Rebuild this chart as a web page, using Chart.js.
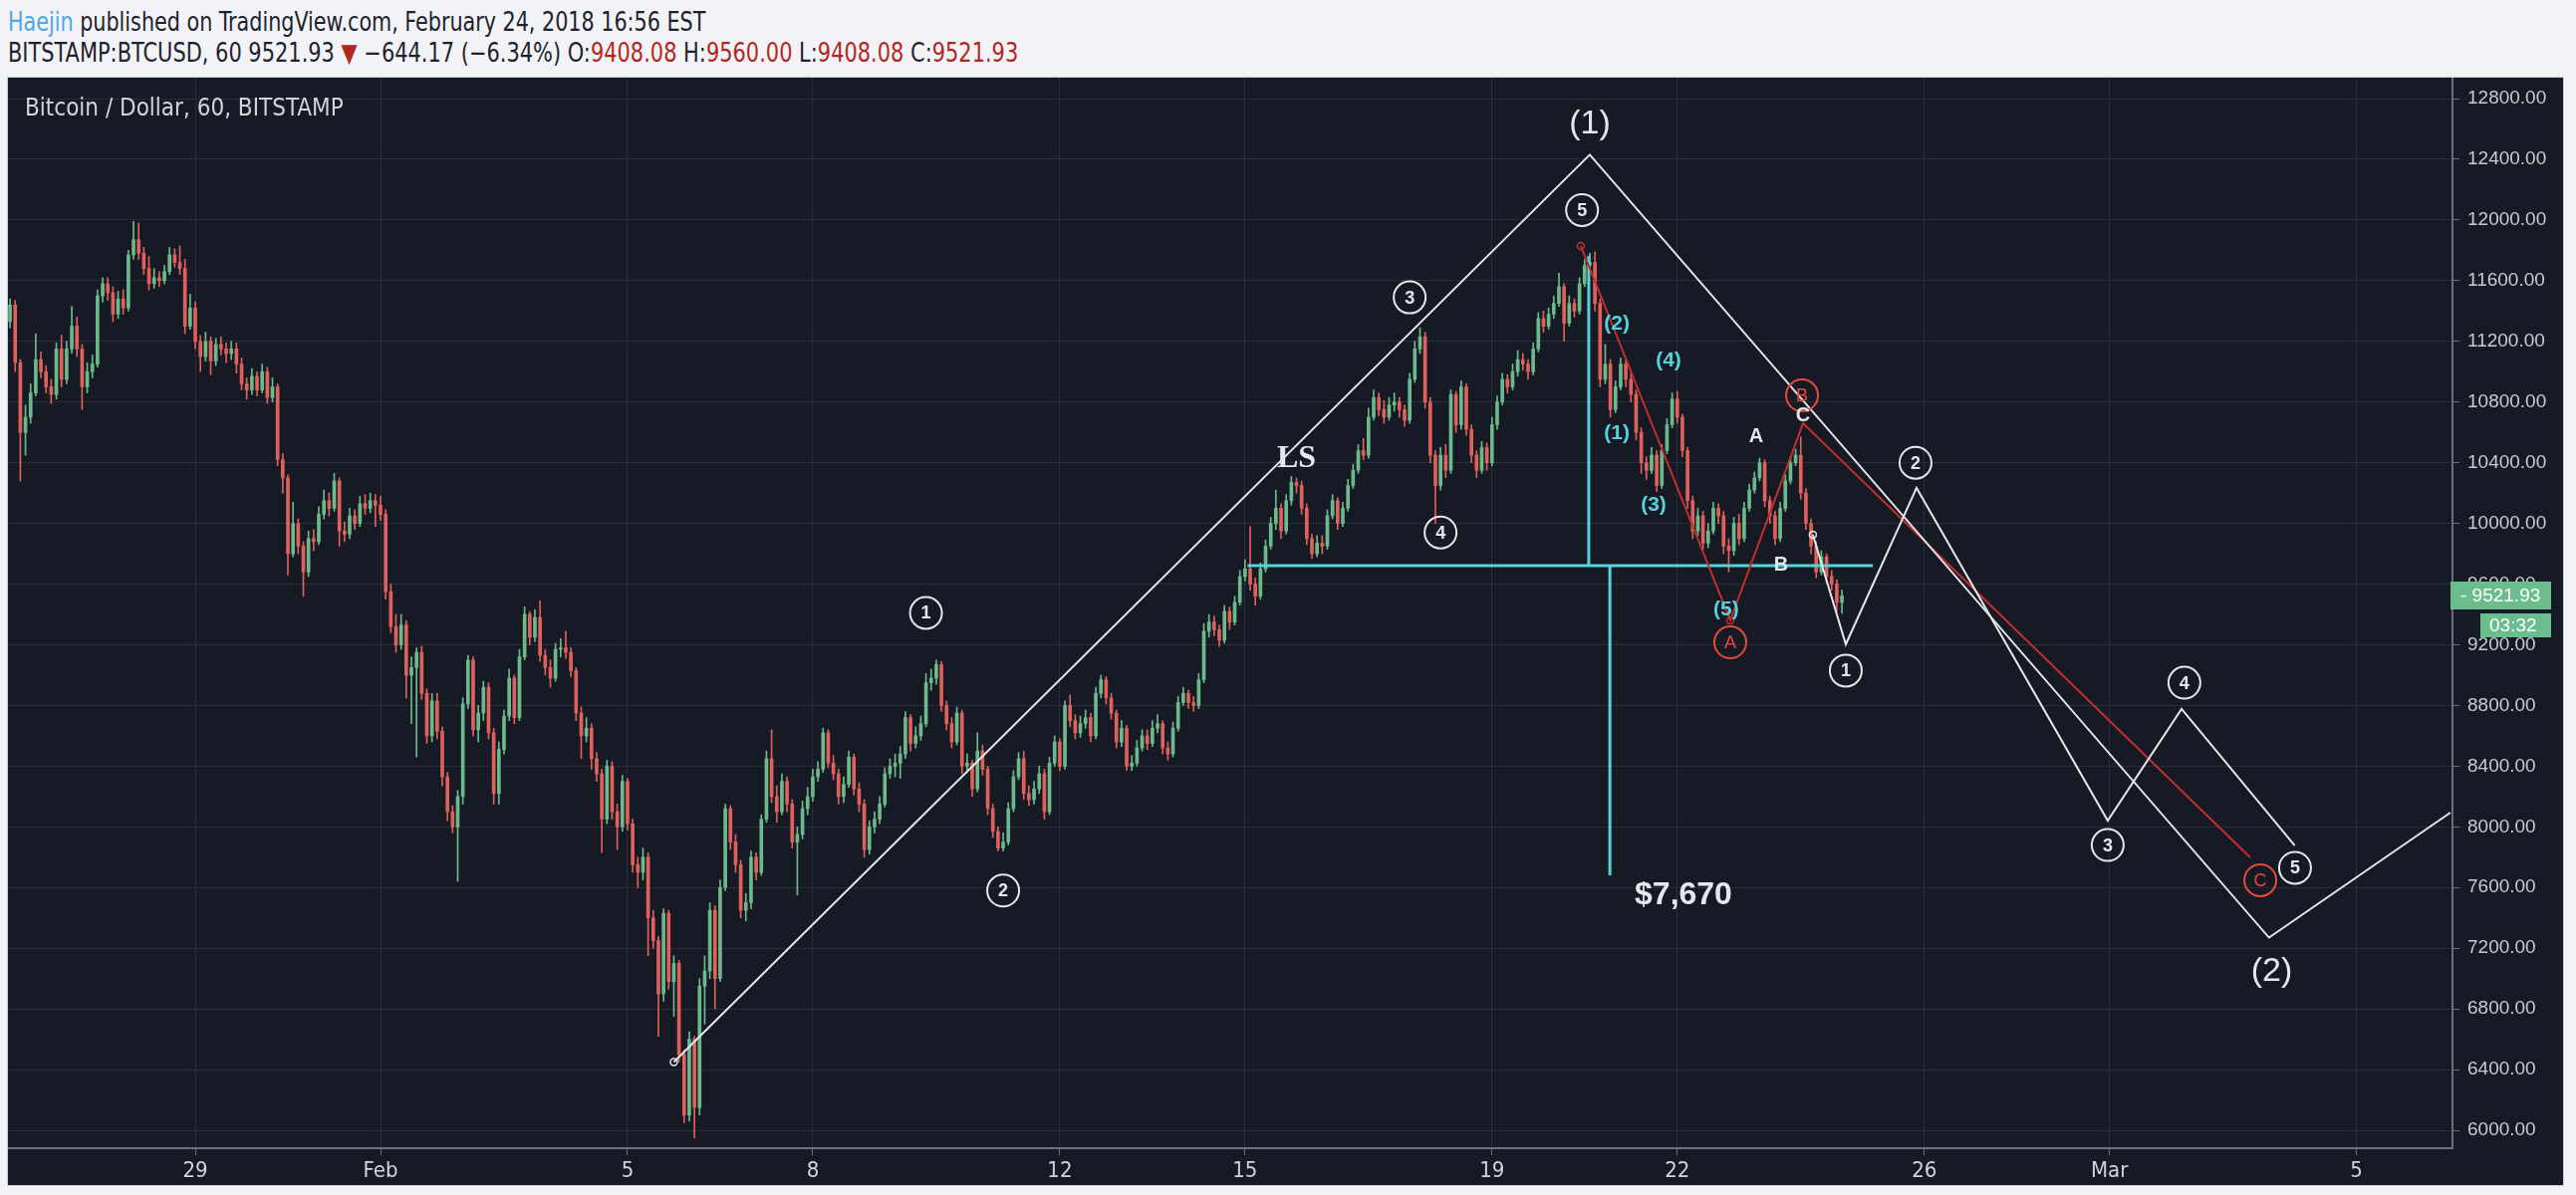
<!DOCTYPE html>
<html lang="en">
<head>
<meta charset="UTF-8">
<title>BITSTAMP:BTCUSD, 60 – Haejin</title>
<script src="https://cdn.jsdelivr.net/npm/chart.js"></script>
<style>
  *{box-sizing:border-box;margin:0;padding:0}
  body{width:2586px;height:1200px;background:#f2f3f7;position:relative;overflow:hidden;
       font-family:'Liberation Sans Narrow','DejaVu Sans Condensed',sans-serif;color:#1e222d}
  .hdr{position:absolute;left:8px;font-size:26px;line-height:32px;white-space:nowrap;transform-origin:0 50%}
  .l1{top:6px;transform:scaleX(0.885)}
  .l2{top:37px;transform:scaleX(0.895)}
  .user{color:#4ea6e6}
  .red{color:#b3261e}
  .panel{position:absolute;left:8px;top:78px;width:2565px;height:1112px;background:#161a25;
         box-shadow:0 0 0 1px #c9ccd4}
  canvas{display:block}
</style>
</head>
<body>
  <div class="hdr l1"><span class="user">Haejin</span> published on TradingView.com, February 24, 2018 16:56 EST</div>
  <div class="hdr l2">BITSTAMP:BTCUSD, 60 9521.93 <span class="red">▼</span> −644.17 (−6.34%) O:<span class="red">9408.08</span> H:<span class="red">9560.00</span> L:<span class="red">9408.08</span> C:<span class="red">9521.93</span></div>
  <div class="panel"><canvas id="chart" width="2565" height="1112"></canvas></div>

<script>
// ---- candles: 2-hour bars from Jan 26 00:00 (x in hours) ----
const barHours = 2;
const firstOpen = 11330;
const closes = [
  11440,11060,10600,10700,10860,11080,11000,10900,10850,11150,
  10950,11150,11300,11150,10900,11000,11050,11500,11580,11520,
  11380,11480,11420,11770,11870,11780,11680,11580,11620,11600,
  11660,11770,11720,11680,11300,11420,11200,11100,11200,11070,
  11180,11150,11120,11150,11050,10920,10880,10970,10880,11000,
  10830,10900,10420,10300,9800,10000,9850,9680,9900,9880,
  10060,10150,10100,10280,9950,9930,10050,10000,10130,10100,
  10150,10120,10060,9550,9320,9200,9330,9000,9050,9150,
  8880,8600,8830,8630,8330,8100,8000,8200,8810,9100,
  8640,8750,8920,8620,8220,8510,8730,8980,8720,9120,
  9400,9250,9380,9130,9050,8980,9170,9180,9150,9030,
  8750,8600,8650,8450,8350,8050,8400,8100,8000,8300,
  8020,7750,7700,7800,7400,7250,6900,7430,6980,7100,
  6500,6100,6600,6150,6950,7050,7450,7000,7600,8120,
  7900,7750,7450,7500,7800,7700,8050,8450,8200,8100,
  8300,8150,7900,7950,8120,8200,8330,8380,8620,8420,
  8350,8200,8280,8460,8250,8150,7850,8000,8050,8150,
  8350,8400,8420,8480,8720,8550,8600,8680,8950,8980,
  9070,8800,8680,8560,8750,8400,8420,8250,8500,8380,
  8120,7970,7860,7900,8120,8330,8450,8220,8180,8250,
  8350,8100,8420,8560,8400,8800,8700,8620,8680,8720,
  8600,8880,8970,8850,8750,8560,8650,8400,8420,8520,
  8600,8550,8650,8680,8520,8480,8650,8820,8880,8820,
  8800,8970,9290,9350,9300,9230,9420,9350,9480,9650,
  9700,9600,9520,9700,9850,10000,10100,9950,10150,10270,
  10250,10100,9900,9800,9870,9850,10050,10150,10000,10100,
  10250,10350,10480,10450,10700,10830,10750,10700,10780,10800,
  10750,10680,10950,11150,11230,10800,10450,10250,10450,10350,
  10850,10650,10900,10620,10450,10350,10500,10400,10650,10800,
  10950,10900,11000,11080,11050,11000,11150,11350,11300,11380,
  11450,11560,11320,11450,11400,11580,11700,11720,11450,10950,
  11050,10750,10900,11050,10950,10850,10600,10400,10350,10450,
  10250,10480,10650,10820,10700,10480,10150,9950,10050,9870,
  9950,10100,10050,9850,9820,10000,9900,10100,10220,10300,
  10400,10150,10050,9900,10100,10280,10400,10450,10200,10000,
  9850,9680,9780,9650,9600,9480,9521.93
];
const highs = [
  11480,11470,11080,10780,10920,11250,11130,11040,10950,11190,
  11240,11200,11430,11360,11180,11060,11110,11540,11620,11620,
  11560,11530,11540,11800,11990,11980,11820,11760,11680,11660,
  11700,11820,11810,11830,11740,11510,11460,11240,11260,11230,
  11220,11230,11190,11200,11190,11090,10960,11020,11000,11050,
  11030,10960,10920,10460,10320,10140,10030,9880,9950,9960,
  10110,10220,10200,10330,10300,10010,10100,10090,10180,10190,
  10200,10190,10180,10090,9600,9400,9400,9360,9120,9180,
  9190,8910,8880,8880,8660,8360,8140,8240,8850,9130,
  9120,8800,8960,8950,8650,8560,8770,9040,9000,9170,
  9450,9420,9430,9490,9170,9100,9210,9240,9290,9180,
  9050,8790,8720,8680,8490,8380,8440,8430,8150,8340,
  8320,8050,7800,7860,7830,7450,7280,7460,7450,7150,
  7120,6530,6650,6620,7000,7150,7500,7480,7650,8150,
  8140,7950,7780,7560,7840,7830,8080,8500,8640,8270,
  8350,8330,8180,8000,8170,8260,8380,8430,8650,8640,
  8470,8380,8330,8500,8480,8290,8180,8040,8100,8200,
  8390,8450,8480,8530,8760,8740,8660,8730,9010,9040,
  9100,9090,8830,8720,8790,8770,8480,8440,8620,8540,
  8400,8150,8000,7960,8160,8370,8490,8500,8270,8300,
  8400,8380,8460,8600,8580,8830,8870,8740,8730,8770,
  8750,8920,9000,8990,8880,8770,8700,8670,8470,8570,
  8640,8640,8700,8740,8700,8560,8690,8860,8920,8900,
  8860,9010,9340,9400,9390,9330,9460,9450,9520,9690,
  9760,9980,9640,9740,9890,10040,10220,10130,10190,10310,
  10300,10280,10130,9930,9920,9920,10090,10190,10170,10140,
  10290,10390,10520,10560,10760,10880,10860,10810,10830,10860,
  10830,10780,10990,11200,11290,11260,10830,10480,10500,10520,
  10880,10870,10940,10920,10650,10480,10540,10530,10700,10840,
  10990,10980,11050,11140,11120,11080,11190,11390,11400,11420,
  11500,11650,11580,11500,11480,11620,11740,11780,11790,11480,
  11180,11080,10940,11090,11080,10990,10880,10630,10440,10500,
  10480,10520,10690,10860,10870,10720,10500,10180,10100,10080,
  10000,10140,10130,10080,9900,10040,10060,10140,10260,10340,
  10430,10420,10180,10080,10140,10320,10440,10490,10570,10230,
  10030,9880,9820,9800,9690,9630,9560
];
const lows = [
  11290,11000,10280,10450,10660,10840,10960,10860,10790,10820,
  10900,10920,11120,11100,10750,10860,10960,11030,11460,11470,
  11330,11350,11380,11400,11740,11740,11640,11540,11550,11560,
  11580,11640,11690,11640,11250,11280,11150,11000,11070,10980,
  11040,11110,11060,11080,10990,10880,10820,10850,10840,10860,
  10790,10800,10380,10200,9660,9780,9800,9520,9650,9820,
  9860,10030,10050,10080,9850,9880,9900,9960,9980,10060,
  10070,9980,10020,9500,9280,9150,9170,8850,8680,8460,
  8840,8550,8560,8580,8270,8040,7960,7640,8150,8780,
  8600,8560,8700,8580,8150,8150,8480,8700,8680,8700,
  9100,9200,9220,9090,9000,8920,8960,9120,9110,8990,
  8700,8450,8560,8380,8300,7830,8020,8050,7850,7970,
  7980,7700,7600,7650,7150,7200,6620,6850,6930,6750,
  6450,6050,6060,5950,6100,6700,7000,6800,6980,7580,
  7850,7700,7400,7380,7460,7650,7680,8030,8160,8030,
  8080,8100,7860,7550,7920,8080,8170,8300,8360,8390,
  8310,8150,8160,8260,8210,8100,7800,7820,7960,8020,
  8130,8320,8330,8320,8450,8500,8520,8570,8660,8900,
  8940,8760,8640,8520,8540,8350,8360,8200,8230,8340,
  8080,7930,7840,7840,7880,8100,8310,8180,8140,8150,
  8220,8050,8080,8400,8370,8380,8660,8580,8590,8650,
  8560,8580,8850,8810,8710,8520,8530,8370,8370,8400,
  8500,8510,8530,8620,8480,8440,8460,8630,8800,8780,
  8760,8780,8950,9250,9260,9190,9210,9300,9330,9460,
  9620,9560,9460,9500,9680,9830,9960,9900,9930,10120,
  10200,10060,9860,9770,9780,9800,9830,10030,9960,9980,
  10080,10230,10330,10420,10430,10680,10710,10660,10680,10740,
  10700,10640,10660,10930,11120,10760,10400,10000,10220,10300,
  10330,10600,10620,10580,10400,10300,10330,10350,10380,10620,
  10780,10860,10880,10970,11010,10950,10980,11130,11260,11280,
  11350,11430,11200,11300,11360,11380,11560,11660,11400,10900,
  10920,10700,10730,10880,10900,10800,10550,10330,10290,10330,
  10210,10230,10460,10630,10660,10440,10100,9900,9920,9830,
  9840,9930,10000,9800,9680,9790,9860,9880,10080,10200,
  10280,10110,10000,9860,9880,10080,10260,10380,10160,9960,
  9800,9640,9660,9610,9560,9420,9408
];

// ---- axes ----
const priceTicks = [6000,6400,6800,7200,7600,8000,8400,8800,9200,9600,10000,10400,10800,11200,11600,12000,12400,12800];
const dateTickHours  = [72, 144, 240, 312, 408, 480, 576, 648, 744, 816, 912];
const dateTickLabels = ['29','Feb','5','8','12','15','19','22','26','Mar','5'];

// ---- drawings (hours, price) ----
const impulseHours  = [258, 614, 878, 948.5];          // (1) up, (2) down, then up
const impulsePrices = [6450, 12430, 7270, 8094];
const projHours  = [700.7, 713.5, 741, 815.3, 844, 888];  // projected 1-5
const projPrices = [9925, 9203, 10234, 8041, 8777, 7877];
const abcLineHours  = [610.5, 668.6, 696.9, 870.7];     // red A-B-C
const abcLinePrices = [11829, 9361, 10660, 7799];
const cyanVert1Hours = [613.6, 613.6], cyanVert1Prices = [11763, 9722];
const neckHours = [481, 724],           neckPrices = [9722, 9722];
const cyanVert2Hours = [621.8, 621.8], cyanVert2Prices = [9722, 7680];

const countText   = ['1','2','3','4','5','1','2','3','4','5'];
const countHours  = [356, 386, 544, 556, 611, 713.5, 740.6, 815.3, 845.1, 888.1];
const countPrices = [9410, 7580, 11490, 9940, 12065, 9030, 10400, 7880, 8950, 7730];
const subText   = ['(1)','(2)','(3)','(4)','(5)'];
const subHours  = [624.5, 624.5, 638.8, 644.6, 667];
const subPrices = [10595, 11317, 10122, 11074, 9433];
const abcText   = ['A','B','C'];
const abcHours  = [678.7, 688.3, 696.9];
const abcPrices = [10575, 9728, 10713];
const redText   = ['A','B','C'];
const redHours  = [668.6, 696.5, 874.6];
const redPrices = [9216, 10844, 7648];
const degText   = ['(1)','(2)'];
const degHours  = [614, 879];
const degPrices = [12630, 7045];
const lsHour = 500, lsPrice = 10425;
const targetHour = 650.4, targetPrice = 7549, targetText = '$7,670';

const UP = '#6cba8c', DOWN = '#e0605c';
const GRID = '#2a2e3b', AXIS = '#6d707b';
const CYAN = '#55d3dc', WHITE = '#e6e7ea', RED = '#c0302a', RED2 = '#e8493c';
const NARROW = "'Liberation Sans Narrow','DejaVu Sans Condensed',sans-serif";
const SANS = "'Liberation Sans','DejaVu Sans',sans-serif";

const xs = closes.map((_, i) => i * barHours);
const opens = closes.map((c, i) => i === 0 ? firstOpen : closes[i - 1]);
const colors = closes.map((c, i) => c >= opens[i] ? UP : DOWN);
const pts = (hs, ps) => hs.map((h, i) => ({x: h, y: ps[i]}));

function lineSet(hs, ps, color, width) {
  return {type:'line', data: pts(hs, ps), borderColor: color, borderWidth: width,
          pointRadius: 0, fill: false, tension: 0, order: 1};
}

const overlay = {
  id: 'overlay',
  afterDatasetsDraw(chart) {
    const {ctx, scales: {x, y}} = chart;
    const X = h => x.getPixelForValue(h), Y = p => y.getPixelForValue(p);
    ctx.save();
    ctx.textBaseline = 'middle';

    ctx.fillStyle = '#d1d4dc';
    ctx.textAlign = 'left';
    ctx.font = '24px ' + NARROW;
    ctx.fillText('Bitcoin / Dollar, 60, BITSTAMP', 17, 32);
    ctx.textAlign = 'center';

    // drawing handles
    ctx.lineWidth = 1.5;
    [[impulseHours[0], impulsePrices[0], WHITE], [projHours[0], projPrices[0], WHITE],
     [abcLineHours[0], abcLinePrices[0], RED], [abcLineHours[1], abcLinePrices[1], RED]].forEach(([h, p, c]) => {
      ctx.strokeStyle = c;
      ctx.beginPath(); ctx.arc(X(h), Y(p), 3.5, 0, Math.PI * 2); ctx.stroke();
    });

    // circled wave counts
    countText.forEach((t, i) => {
      const px = X(countHours[i]), py = Y(countPrices[i]);
      ctx.strokeStyle = WHITE; ctx.lineWidth = 2;
      ctx.beginPath(); ctx.arc(px, py, 16, 0, Math.PI * 2); ctx.stroke();
      ctx.fillStyle = WHITE; ctx.font = 'bold 18px ' + SANS;
      ctx.fillText(t, px, py + 1);
    });
    // red circled letters
    redText.forEach((t, i) => {
      const px = X(redHours[i]), py = Y(redPrices[i]);
      ctx.strokeStyle = RED2; ctx.lineWidth = 2;
      ctx.beginPath(); ctx.arc(px, py, 16, 0, Math.PI * 2); ctx.stroke();
      ctx.fillStyle = RED2; ctx.font = '18px ' + SANS;
      ctx.fillText(t, px, py + 1);
    });
    // cyan sub-wave labels
    ctx.fillStyle = CYAN; ctx.font = 'bold 21px ' + SANS;
    subText.forEach((t, i) => ctx.fillText(t, X(subHours[i]), Y(subPrices[i])));
    // A B C
    ctx.fillStyle = WHITE; ctx.font = 'bold 20px ' + SANS;
    abcText.forEach((t, i) => ctx.fillText(t, X(abcHours[i]), Y(abcPrices[i])));
    // (1) (2)
    ctx.font = '34px ' + SANS;
    degText.forEach((t, i) => ctx.fillText(t, X(degHours[i]), Y(degPrices[i])));
    // LS
    ctx.font = 'bold 32px "Liberation Serif", "DejaVu Serif", serif';
    ctx.fillText('LS', X(lsHour), Y(lsPrice));
    // target
    ctx.font = 'bold 32px ' + SANS;
    ctx.fillText(targetText, X(targetHour), Y(targetPrice));
    ctx.restore();
  },
  afterDraw(chart) {
    const {ctx, chartArea, scales: {y}} = chart;
    const py = Math.round(y.getPixelForValue(closes[closes.length - 1]));
    const r = chartArea.right;
    ctx.save();
    ctx.fillStyle = '#6bbd8d';
    ctx.fillRect(r - 2, py - 14, 101, 28);
    ctx.fillRect(r + 28, py + 18, 71, 24);
    ctx.fillStyle = '#ffffff';
    ctx.textBaseline = 'middle';
    ctx.textAlign = 'left';
    ctx.font = '19px ' + SANS;
    ctx.fillText('- ' + closes[closes.length - 1].toFixed(2), r + 8, py + 1);
    ctx.fillText('03:32', r + 37, py + 31);
    ctx.restore();
  }
};

new Chart(document.getElementById('chart'), {
  type: 'bar',
  data: {
    datasets: [
      {label: 'wicks', data: xs.map((h, i) => ({x: h, y: [lows[i], highs[i]]})),
       backgroundColor: colors, barThickness: 1, grouped: false, order: 10},
      {label: 'bodies', data: xs.map((h, i) => ({x: h, y: [opens[i], closes[i]]})),
       backgroundColor: colors, barThickness: 3, grouped: false, minBarLength: 1, order: 9},
      lineSet(impulseHours, impulsePrices, WHITE, 2),
      lineSet(projHours, projPrices, WHITE, 2),
      lineSet(abcLineHours, abcLinePrices, RED, 2),
      lineSet(cyanVert1Hours, cyanVert1Prices, CYAN, 3),
      lineSet(neckHours, neckPrices, CYAN, 3),
      lineSet(cyanVert2Hours, cyanVert2Prices, CYAN, 3)
    ]
  },
  options: {
    responsive: false,
    animation: false,
    devicePixelRatio: 1,
    layout: {padding: 0},
    plugins: {legend: {display: false}, tooltip: {enabled: false}},
    scales: {
      x: {
        type: 'linear', min: -0.8, max: 949.3, offset: false,
        grid: {color: GRID, offset: false, tickColor: AXIS, tickLength: 7},
        border: {color: AXIS, width: 2},
        afterBuildTicks: s => { s.ticks = dateTickHours.map(v => ({value: v})); },
        ticks: {autoSkip: false, maxRotation: 0, color: '#d1d4dc', padding: 3,
                font: {family: NARROW, size: 22},
                callback: (v, i) => dateTickLabels[i]},
        afterFit: s => { s.height = 37; s.paddingLeft = 0; s.paddingRight = 0; }
      },
      y: {
        position: 'right', min: 5882, max: 12938,
        grid: {color: GRID, tickColor: AXIS, tickLength: 7},
        border: {color: AXIS, width: 2},
        afterBuildTicks: s => { s.ticks = priceTicks.map(v => ({value: v})); },
        ticks: {color: '#c9cbd1', padding: 8, font: {family: SANS, size: 19},
                callback: v => v.toFixed(2)},
        afterFit: s => { s.width = 111; s.paddingTop = 0; s.paddingBottom = 0; }
      }
    }
  },
  plugins: [overlay]
});
</script>
</body>
</html>
